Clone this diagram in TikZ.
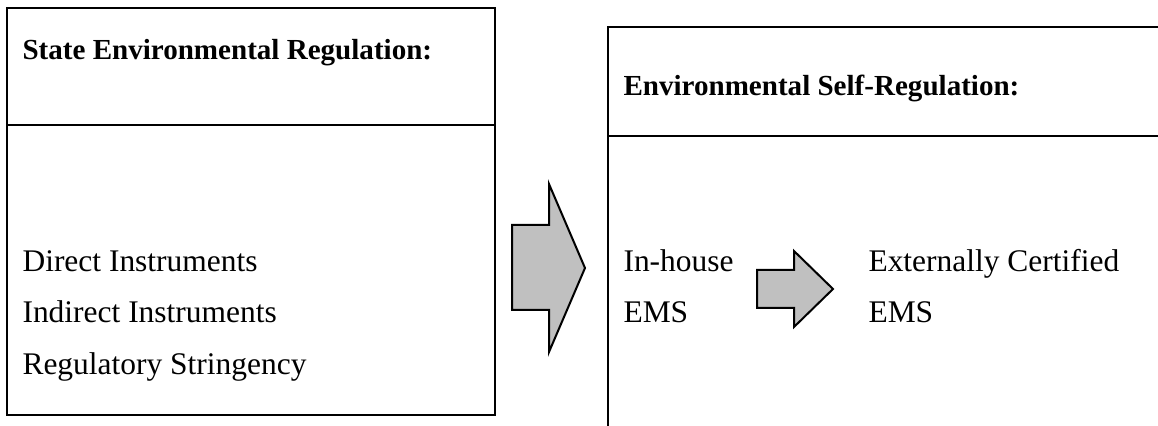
\documentclass[tikz,border=0pt]{standalone}
\usepackage{fontspec}
\setmainfont{Liberation Serif}
\definecolor{arrowgray}{HTML}{C0C0C0}
\tikzset{
  boxline/.style={line width=1.1pt, draw=black},
  txt/.style={anchor=base west, inner sep=0pt, font=\fontsize{11.8}{14}\selectfont},
  ttl/.style={txt, font=\fontsize{10.9}{13}\selectfont\bfseries},
  fatarrow/.style={fill=arrowgray, draw=black, line width=0.75pt, line join=miter},
}
\begin{document}
\begin{tikzpicture}[x=0.375pt,y=-0.375pt]
\useasboundingbox (0,0) rectangle (1158,426);
\clip (0,0) rectangle (1158,426);
% left box
\draw[boxline] (7,8) rectangle (495,415);
\draw[boxline] (7,125) -- (495,125);
\node[ttl] (lt) at (22,60) {State Environmental Regulation:};
\node[txt] (l1) at (22,272) {Direct Instruments};
\node[txt] (l2) at (22,323) {Indirect Instruments};
\node[txt] (l3) at (22,375) {Regulatory Stringency};
% big arrow
\draw[fatarrow] (512,225) -- (549,225) -- (549,184) -- (585,268) -- (549,352) -- (549,310) -- (512,310) -- cycle;
% right box (runs off the page)
\draw[boxline] (608,440) -- (608,27) -- (1170,27);
\draw[boxline] (608,136) -- (1170,136);
\node[ttl] (rt) at (623,96) {Environmental Self-Regulation:};
\node[txt] (r1) at (623,272) {In-house};
\node[txt] (r2) at (623,323) {EMS};
\node[txt] (r3) at (868,272) {Externally Certified};
\node[txt] (r4) at (868,323) {EMS};
% small arrow
\draw[fatarrow] (757,270) -- (794,270) -- (794,251) -- (833,289) -- (794,327) -- (794,308) -- (757,308) -- cycle;
\end{tikzpicture}
\end{document}
